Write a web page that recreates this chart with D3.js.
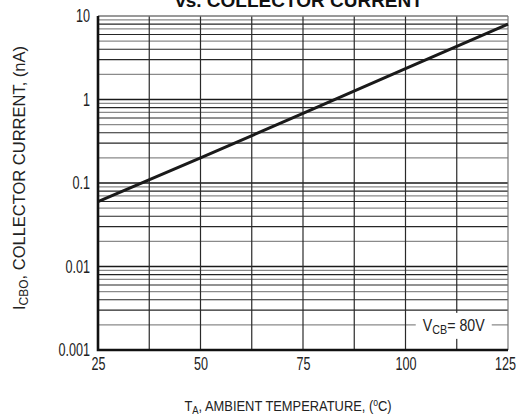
<!DOCTYPE html>
<html>
<head>
<meta charset="utf-8">
<script src="https://cdn.jsdelivr.net/npm/d3@7"></script>
<style>
  body { margin: 0; background: #fff; }
  svg { display: block; font-family: "Liberation Sans", Arial, sans-serif; }
</style>
</head>
<body>
<svg id="chart"></svg>
<script>
const width = 520;
const height = 417;
const margin = { top: 16, right: 12, bottom: 67, left: 98 };

// readings (VCB = 80V)
const temps = [25, 50, 75, 100, 125];
const icbo = [0.06, 0.2, 0.68, 2.35, 8.0];

const xTicks = [25, 50, 75, 100, 125];
const xGrid = [25, 37.5, 50, 62.5, 75, 87.5, 100, 112.5, 125];
const yTicks = [0.001, 0.01, 0.1, 1, 10];
const yTickLabels = ["0.001", "0.01", "0.1", "1", "10"];
const minorSteps = [2, 3, 4, 5, 6, 7, 8, 9];
const minorGray = [5, 7, 9, 2];

// the original uses a condensed face; squeeze glyphs horizontally
const tickSqueeze = 0.72;

const svg = d3.select("#chart")
              .attr("width", width)
              .attr("height", height);

const x = d3.scaleLinear()
            .domain([25, 125])
            .range([margin.left, width - margin.right]);

const y = d3.scaleLog()
            .domain([0.001, 10])
            .range([height - margin.bottom, margin.top]);

// horizontal grid: decades + minor lines
const minorVals = [];
yTicks.slice(0, -1).forEach(d => minorSteps.forEach(m => minorVals.push(d * m)));

svg.append("g")
   .selectAll("line")
   .data(minorVals)
   .join("line")
   .attr("x1", x(25))
   .attr("x2", x(125))
   .attr("y1", d => y(d))
   .attr("y2", d => y(d))
   .attr("stroke", d => {
       const m = Math.round(d / Math.pow(10, Math.floor(Math.log10(d) + 1e-9)));
       return minorGray.includes(m) ? "#8a8a8a" : "#262626";
   })
   .attr("stroke-width", 1.2);

svg.append("g")
   .selectAll("line")
   .data(yTicks.slice(1, -1))
   .join("line")
   .attr("x1", x(25))
   .attr("x2", x(125))
   .attr("y1", d => y(d))
   .attr("y2", d => y(d))
   .attr("stroke", "#1a1a1a")
   .attr("stroke-width", 1.3);

// vertical grid
svg.append("g")
   .selectAll("line")
   .data(xGrid.slice(1))
   .join("line")
   .attr("x1", d => x(d))
   .attr("x2", d => x(d))
   .attr("y1", y(10))
   .attr("y2", y(0.001))
   .attr("stroke", d => d === 125 ? "#777" : "#2a2a2a")
   .attr("stroke-width", 1.2);

// top frame line
svg.append("line")
   .attr("x1", x(25)).attr("x2", x(125))
   .attr("y1", y(10)).attr("y2", y(10))
   .attr("stroke", "#777")
   .attr("stroke-width", 1.3);

// VCB label with white box over the grid
const lab = svg.append("g")
               .attr("transform", `translate(${x(112.5)}, ${y(0.002)})`);
lab.append("rect")
   .attr("x", -41).attr("y", -12)
   .attr("width", 76).attr("height", 26)
   .attr("fill", "#fff");
const labText = lab.append("text")
   .attr("transform", "translate(-3, 6) scale(0.86, 1)")
   .attr("text-anchor", "middle")
   .attr("font-size", 16.5)
   .attr("fill", "#222");
labText.append("tspan").text("V");
labText.append("tspan").attr("font-size", 12.5).attr("dy", 3).text("CB");
labText.append("tspan").attr("dy", -3).text("= 80V");

// the curve
const line = d3.line()
               .x((d, i) => x(temps[i]))
               .y(d => y(d));

svg.append("path")
   .datum(icbo)
   .attr("d", line)
   .attr("fill", "none")
   .attr("stroke", "#1a1a1a")
   .attr("stroke-width", 3);

// axes
const xAxis = d3.axisBottom(x)
                .tickValues(xTicks)
                .tickSize(0)
                .tickPadding(8);
const gx = svg.append("g")
              .attr("transform", `translate(0, ${y(0.001)})`)
              .call(xAxis);
gx.select(".domain").remove();
gx.selectAll("text")
  .attr("font-family", null)
  .attr("font-size", 17.5)
  .attr("fill", "#222")
  .attr("transform", `scale(${tickSqueeze}, 1)`);
// last label sits against the window edge in the original
gx.selectAll(".tick").filter(d => d === 125)
  .select("text").attr("x", -3 / tickSqueeze);

const yAxis = d3.axisLeft(y)
                .tickValues(yTicks)
                .tickFormat((d, i) => yTickLabels[i])
                .tickSize(0)
                .tickPadding(8 / tickSqueeze);
const gy = svg.append("g")
              .attr("transform", `translate(${x(25)}, 0)`)
              .call(yAxis);
gy.select(".domain").remove();
gy.selectAll("text")
  .attr("font-family", null)
  .attr("font-size", 17.5)
  .attr("fill", "#222")
  .attr("transform", `scale(${tickSqueeze}, 1)`);

// thick left and bottom frame
svg.append("path")
   .attr("d", `M${x(25)},${y(10)}V${y(0.001)}H${x(125)}`)
   .attr("fill", "none")
   .attr("stroke", "#111")
   .attr("stroke-width", 2.6);

// title (cut at top)
svg.append("text")
   .attr("x", 299)
   .attr("y", 7)
   .attr("text-anchor", "middle")
   .attr("font-weight", "bold")
   .attr("font-size", 19)
   .attr("fill", "#111")
   .text("vs. COLLECTOR CURRENT");

// x axis title
const xt = svg.append("text")
   .attr("transform", "translate(288, 411) scale(0.86, 1)")
   .attr("text-anchor", "middle")
   .attr("font-size", 15)
   .attr("fill", "#222");
xt.append("tspan").text("T");
xt.append("tspan").attr("font-size", 11).attr("dy", 3).text("A");
xt.append("tspan").attr("dy", -3).text(", AMBIENT TEMPERATURE, (");
xt.append("tspan").attr("font-size", 10).attr("dy", -5).text("o");
xt.append("tspan").attr("dy", 5).text("C)");

// y axis title
const yt = svg.append("text")
   .attr("transform", "translate(25, 178) rotate(-90)")
   .attr("text-anchor", "middle")
   .attr("font-size", 16.5)
   .attr("fill", "#222");
yt.append("tspan").text("I");
yt.append("tspan").attr("font-size", 12).attr("dy", 3).text("CBO");
yt.append("tspan").attr("dy", -3).text(", COLLECTOR CURRENT, (nA)");
</script>
</body>
</html>
